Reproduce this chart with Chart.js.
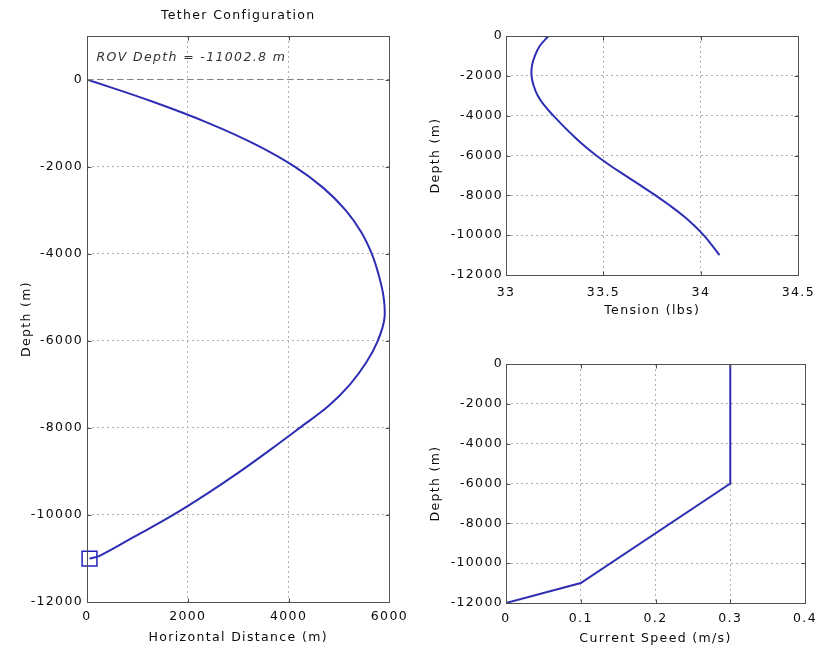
<!DOCTYPE html>
<html><head><meta charset="utf-8">
<script src="https://cdn.jsdelivr.net/npm/chart.js@4/dist/chart.umd.min.js"></script>
<style>
html,body{margin:0;padding:0;background:#fff;width:823px;height:648px;overflow:hidden;position:relative}
canvas{position:absolute}
</style></head><body>
<canvas id="c1" width="415" height="648" style="left:0;top:0"></canvas>
<canvas id="c2" width="410" height="330" style="left:415px;top:0"></canvas>
<canvas id="c3" width="410" height="318" style="left:415px;top:330px"></canvas>
<script>
// ---- data ----
const horizDistance = [0,1280,2410,3360,4120,4700,5130,5440,5650,5790,5885,5900,5770,5540,5220,4790,4220,3640,3040,2400,1710,940,250,50];
const tetherDepth   = [0,-500,-1000,-1500,-2000,-2500,-3000,-3500,-4000,-4500,-5000,-5500,-6000,-6500,-7000,-7500,-8000,-8500,-9000,-9500,-10000,-10500,-10940,-11002.8];
const rovDistance = [50];
const rovDepth = [-11002.8];
const zeroLineX = [0,6000];
const zeroLineY = [0,0];
const tensionLbs   = [33.218,33.173,33.148,33.133,33.131,33.142,33.163,33.198,33.243,33.292,33.344,33.400,33.463,33.534,33.611,33.690,33.767,33.839,33.906,33.964,34.014,34.056,34.095];
const tensionDepth = [0,-500,-1000,-1500,-2000,-2500,-3000,-3500,-4000,-4500,-5000,-5500,-6000,-6500,-7000,-7500,-8000,-8500,-9000,-9500,-10000,-10500,-11002.8];
const currentSpeed = [0.3,0.3,0.1,0];
const currentDepth = [0,-6000,-11000,-12000];
const depthTicks = [0,-2000,-4000,-6000,-8000,-10000,-12000];
const distanceTicks = [0,2000,4000,6000];
const tensionTicks = [33,33.5,34,34.5];
const speedTicks = [0,0.1,0.2,0.3,0.4];
const rovLabel = 'ROV Depth = -11002.8 m';
const mainTitle = 'Tether Configuration';

// ---- style ----
const TXT='#0a0a0a', GRID='#b0b0b0', BOX='#505050', LINE='#2e2eb4', LS='1.35px';
Chart.defaults.font.family="'DejaVu Sans', sans-serif";
Chart.defaults.font.size=12.5;
Chart.defaults.color=TXT;
Chart.defaults.animation=false;

const pts=(xs,ys)=>xs.map((v,i)=>({x:v,y:ys[i]}));
const fmt=v=>String(parseFloat(Number(v).toFixed(3)));

const spacing={id:'spacing',beforeLayout(c){c.ctx.letterSpacing=LS;},beforeDraw(c){c.ctx.letterSpacing=LS;}};
const box={id:'box',afterDatasetsDraw(c){
  const {ctx,chartArea:a,scales:{x,y}}=c;
  ctx.save();ctx.setLineDash([]);ctx.strokeStyle=BOX;ctx.lineWidth=1;
  const L=Math.round(a.left)+0.5,T=Math.round(a.top)+0.5,R=Math.round(a.right)+0.5,B=Math.round(a.bottom)+0.5;
  ctx.strokeRect(L,T,R-L,B-T);
  const tl=4;ctx.beginPath();
  x.ticks.forEach(t=>{const p=Math.round(x.getPixelForValue(t.value))+0.5;ctx.moveTo(p,B);ctx.lineTo(p,B-tl);ctx.moveTo(p,T);ctx.lineTo(p,T+tl);});
  y.ticks.forEach(t=>{const p=Math.round(y.getPixelForValue(t.value))+0.5;ctx.moveTo(L,p);ctx.lineTo(L+tl,p);ctx.moveTo(R,p);ctx.lineTo(R-tl,p);});
  ctx.stroke();ctx.restore();
}};

function xScale(min,max,ticks,title,h,tickPad,titlePad){
  return {type:'linear',min,max,
    afterBuildTicks:s=>{s.ticks=ticks.map(v=>({value:v}));},
    afterFit:s=>{s.height=h;},
    ticks:{padding:tickPad,autoSkip:false,maxRotation:0,color:TXT,callback:fmt},
    grid:{color:GRID,drawTicks:false},
    border:{display:false,dash:[2,3]},
    title:{display:true,text:title,color:TXT,padding:{top:0,bottom:titlePad}}};
}
function yScale(max,w,tickPad,titlePad){
  return {type:'linear',min:-12000,max,
    afterBuildTicks:s=>{s.ticks=depthTicks.map(v=>({value:v}));},
    afterFit:s=>{s.width=w;},
    ticks:{padding:tickPad,autoSkip:false,color:TXT,callback:fmt},
    grid:{color:GRID,drawTicks:false},
    border:{display:false,dash:[2,3]},
    title:{display:true,text:'Depth (m)',color:TXT,padding:{top:titlePad,bottom:0}}};
}
const baseOpts=(layoutPad,scales)=>({responsive:false,animation:false,
  layout:{padding:layoutPad},
  plugins:{legend:{display:false},tooltip:{enabled:false},title:{display:false}},
  scales});

const textA={id:'textA',afterDraw(c){
  const {ctx,chartArea:a,scales:{x,y}}=c;
  ctx.save();ctx.letterSpacing=LS;ctx.fillStyle=TXT;
  ctx.font="12.5px 'DejaVu Sans', sans-serif";ctx.textAlign='center';ctx.textBaseline='middle';
  ctx.fillText(mainTitle,(a.left+a.right)/2,16);
  ctx.font="italic 12.5px 'DejaVu Sans', sans-serif";ctx.textAlign='left';ctx.fillStyle='#333';
  ctx.fillText(rovLabel,x.getPixelForValue(190),y.getPixelForValue(500));
  ctx.restore();
}};

new Chart(document.getElementById('c1'),{type:'scatter',
  data:{datasets:[
    {data:pts(zeroLineX,zeroLineY),showLine:true,borderColor:'#808080',borderWidth:1,borderDash:[6,4],pointRadius:0},
    {data:pts(horizDistance,tetherDepth),showLine:true,borderColor:LINE,borderWidth:2,pointRadius:0,tension:0.4},
    {data:pts(rovDistance,rovDepth),showLine:false,pointStyle:'rect',pointRadius:10.5,borderColor:'#2020c0',borderWidth:1.5,backgroundColor:'rgba(0,0,0,0)',clip:false}
  ]},
  options:baseOpts({left:0,top:36,right:23,bottom:0},{
    x:xScale(0,6000,distanceTicks,'Horizontal Distance (m)',46,7,3),
    y:yScale(1000,87,4,19)}),
  plugins:[spacing,box,textA]});

new Chart(document.getElementById('c2'),{type:'scatter',
  data:{datasets:[
    {data:pts(tensionLbs,tensionDepth),showLine:true,borderColor:LINE,borderWidth:2,pointRadius:0,tension:0.4}
  ]},
  options:baseOpts({left:0,top:36,right:17,bottom:0},{
    x:xScale(33,34.5,tensionTicks,'Tension (lbs)',55,10,12),
    y:yScale(0,91,3,13)}),
  plugins:[spacing,box]});

new Chart(document.getElementById('c3'),{type:'scatter',
  data:{datasets:[
    {data:pts(currentSpeed,currentDepth),showLine:true,borderColor:LINE,borderWidth:2,pointRadius:0,tension:0}
  ]},
  options:baseOpts({left:0,top:34,right:17,bottom:0},{
    x:xScale(0,0.4,speedTicks,'Current Speed (m/s)',45,8,2),
    y:yScale(0,91,3,13)}),
  plugins:[spacing,box]});
</script>
</body></html>
